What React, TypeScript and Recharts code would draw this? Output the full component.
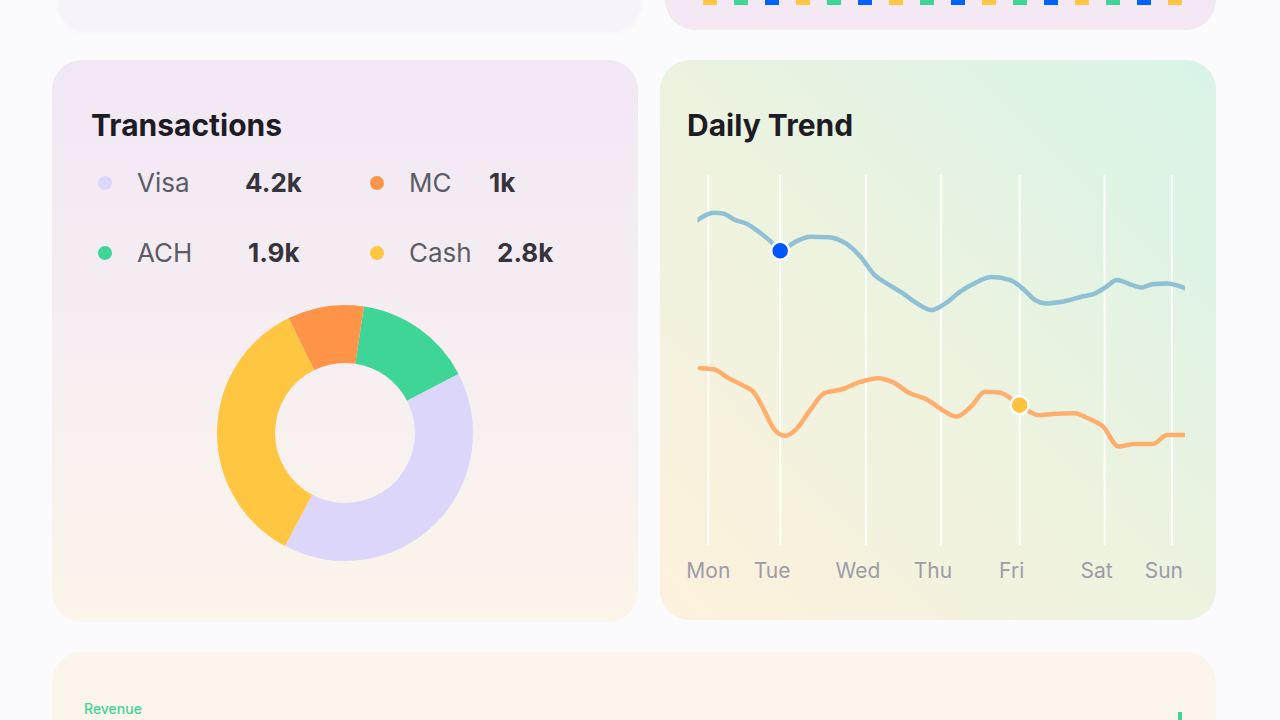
import React from "react";
import {
  PieChart,
  Pie,
  Cell,
  LineChart,
  Line,
  XAxis,
  YAxis,
  ReferenceLine,
  BarChart,
  Bar,
} from "recharts";

// legend
const METHODS = ["Visa", "MC", "ACH", "Cash"];
const METHOD_TOTALS = ["4.2k", "1k", "1.9k", "2.8k"];
const METHOD_COLORS: Record<string, string> = {
  Visa: "#dcd6fb",
  MC: "#fd9447",
  ACH: "#3fd596",
  Cash: "#ffc642",
};

// donut ring, clockwise from ACH (share of the ring, %)
const SLICE_ORDER = ["ACH", "Visa", "Cash", "MC"];
const SLICE_SHARES = [15, 40.4, 35, 9.6];

// daily trend
const DAYS = ["Mon", "Tue", "Wed", "Thu", "Fri", "Sat", "Sun"];
const DAY_TICKS = [0, 0.93, 2.04, 3.01, 4.03, 5.13, 6];

const CARD_DAY = [
  -0.14, 0.07, 0.19, 0.35, 0.49, 0.65, 0.81, 0.93, 1.13, 1.32, 1.55, 1.78,
  1.97, 2.15, 2.34, 2.52, 2.7, 2.89, 3.07, 3.26, 3.44, 3.67, 3.91, 4.09, 4.23,
  4.37, 4.6, 4.83, 5.01, 5.15, 5.29, 5.48, 5.61, 5.75, 5.94, 6.17,
];
const CARD_VALUE = [
  87.8, 89.8, 89.6, 87.8, 86.9, 84.7, 82.0, 79.5, 82.0, 83.3, 83.2, 81.5,
  77.9, 73.0, 70.3, 68.0, 65.3, 63.5, 65.3, 68.5, 70.7, 72.4, 71.6, 68.9,
  66.2, 65.3, 65.8, 67.1, 68.0, 69.8, 71.6, 70.3, 69.6, 70.5, 70.7, 69.4,
];
const CASH_DAY = [
  -0.11, 0.07, 0.26, 0.44, 0.6, 0.72, 0.86, 1.0, 1.13, 1.32, 1.5, 1.73, 1.97,
  2.2, 2.38, 2.61, 2.84, 3.03, 3.21, 3.4, 3.58, 3.77, 4.03, 4.28, 4.46, 4.74,
  4.92, 5.11, 5.31, 5.52, 5.75, 5.94, 6.17,
];
const CASH_VALUE = [
  47.8, 47.5, 45.1, 43.2, 41.0, 36.5, 31.1, 29.5, 31.1, 36.5, 41.0, 42.1,
  44.1, 45.1, 44.1, 41.0, 39.2, 36.5, 34.7, 37.4, 41.4, 41.2, 37.8, 35.1,
  35.4, 35.6, 34.2, 32.0, 26.6, 27.3, 27.3, 29.7, 29.7,
];
const CARD_MARK = 0.93;
const CASH_MARK = 4.03;

// bars of the card above, only their feet are visible
const STUB_VALUES = [1, 1, 1, 1, 1, 1, 1, 1, 1, 1, 1, 1, 1, 1, 1, 1];
const STUB_COLORS = [
  "#ffc642", "#3fd596", "#0062ff", "#ffc642", "#3fd596", "#0062ff",
  "#ffc642", "#3fd596", "#0062ff", "#ffc642", "#3fd596", "#0062ff",
  "#ffc642", "#3fd596", "#0062ff", "#ffc642",
];

const FONT = "Inter, 'Noto Sans', sans-serif";

const donutData = SLICE_ORDER.map((name, i) => ({ name, value: SLICE_SHARES[i] }));
const cardSeries = CARD_DAY.map((day, i) => ({ day, value: CARD_VALUE[i] }));
const cashSeries = CASH_DAY.map((day, i) => ({ day, value: CASH_VALUE[i] }));
const stubData = STUB_VALUES.map((v, i) => ({ i, v }));

function markDot(markDay: number, fill: string, r: number) {
  return (props: any) => {
    const { cx, cy, payload, index } = props;
    if (payload.day !== markDay) return <g key={`d-${index}`} />;
    return (
      <circle
        key={`d-${index}`}
        cx={cx}
        cy={cy}
        r={r}
        fill={fill}
        stroke="#ffffff"
        strokeWidth={2.5}
      />
    );
  };
}

function DayTick(props: any) {
  const { x, y, index } = props;
  return (
    <text
      x={x}
      y={y}
      dx={index === 0 ? 0 : -8}
      dy={25}
      textAnchor="middle"
      fill="#9d9ca7"
      fontSize={21}
      fontFamily={FONT}
    >
      {DAYS[index]}
    </text>
  );
}

function LegendItem({ name, total, left, top, labelWidth }: any) {
  return (
    <div
      style={{
        position: "absolute",
        left,
        top,
        height: 26,
        display: "flex",
        alignItems: "center",
      }}
    >
      <span
        style={{
          width: 14,
          height: 14,
          borderRadius: 7,
          background: METHOD_COLORS[name],
          marginRight: 25,
        }}
      />
      <span style={{ width: labelWidth, fontSize: 26, color: "#5d5c66", lineHeight: "26px" }}>
        {name}
      </span>
      <span style={{ fontSize: 26, fontWeight: 700, color: "#35343b", lineHeight: "26px" }}>
        {total}
      </span>
    </div>
  );
}

export default function App() {
  const card: React.CSSProperties = {
    position: "absolute",
    borderRadius: 30,
    overflow: "hidden",
  };
  const title: React.CSSProperties = {
    position: "absolute",
    top: 50,
    fontSize: 30,
    lineHeight: "30px",
    fontWeight: 700,
    color: "#1d1c25",
  };

  return (
    <div
      style={{
        position: "fixed",
        left: 0,
        top: 0,
        width: 1280,
        height: 720,
        overflow: "hidden",
        background: "#fbfbfd",
        fontFamily: FONT,
      }}
    >
      {/* cards above, cut off by the top edge */}
      <div style={{ ...card, left: 57, top: -40, width: 585, height: 73, background: "#f6f3fa", filter: "blur(1.5px)" }} />
      <div style={{ ...card, left: 665, top: -40, width: 551, height: 70, background: "#f4e8f4" }} />
      <div style={{ position: "absolute", left: 693.5, top: -95 }}>
        <BarChart width={496} height={100} data={stubData} margin={{ top: 0, right: 0, bottom: 0, left: 0 }} barSize={14}>
          <XAxis dataKey="i" hide />
          <YAxis hide domain={[0, 1]} />
          <Bar dataKey="v" isAnimationActive={false}>
            {stubData.map((d) => (
              <Cell key={`s-${d.i}`} fill={STUB_COLORS[d.i]} />
            ))}
          </Bar>
        </BarChart>
      </div>

      {/* Transactions */}
      <div
        style={{
          ...card,
          left: 52,
          top: 60,
          width: 586,
          height: 562,
          background: "linear-gradient(180deg, #f1e8f5 0%, #f6eef2 50%, #fbf5ea 100%)",
        }}
      >
        <div style={{ ...title, left: 39 }}>Transactions</div>
        <LegendItem name={METHODS[0]} total={METHOD_TOTALS[0]} left={46} top={110} labelWidth={108} />
        <LegendItem name={METHODS[1]} total={METHOD_TOTALS[1]} left={318} top={110} labelWidth={80} />
        <LegendItem name={METHODS[2]} total={METHOD_TOTALS[2]} left={46} top={180} labelWidth={111} />
        <LegendItem name={METHODS[3]} total={METHOD_TOTALS[3]} left={318} top={180} labelWidth={88} />
        <div style={{ position: "absolute", left: 0, top: 223 }}>
          <PieChart width={586} height={300} margin={{ top: 0, right: 0, bottom: 0, left: 0 }}>
            <Pie
              data={donutData}
              dataKey="value"
              cx={293}
              cy={150}
              innerRadius={70}
              outerRadius={128}
              startAngle={81.5}
              endAngle={-278.5}
              stroke="none"
              isAnimationActive={false}
            >
              {donutData.map((d) => (
                <Cell key={d.name} fill={METHOD_COLORS[d.name]} />
              ))}
            </Pie>
          </PieChart>
        </div>
      </div>

      {/* Daily Trend */}
      <div
        style={{
          ...card,
          left: 660,
          top: 60,
          width: 556,
          height: 560,
          background: "linear-gradient(to top right, #fdf1dc 0%, #eef3df 45%, #d8f4e7 100%)",
        }}
      >
        <div style={{ ...title, left: 27 }}>Daily Trend</div>
        <div style={{ position: "absolute", left: 0, top: 0 }}>
          <LineChart width={556} height={560} margin={{ top: 115, right: 31, bottom: 35, left: 37.5 }}>
            <XAxis
              dataKey="day"
              type="number"
              domain={[-0.14, 6.17]}
              ticks={DAY_TICKS}
              interval={0}
              height={40}
              axisLine={false}
              tickLine={false}
              tick={<DayTick />}
              allowDataOverflow
            />
            <YAxis hide domain={[0, 100]} />
            {DAY_TICKS.map((t) => (
              <ReferenceLine key={`g-${t}`} x={t} stroke="#ffffff" strokeWidth={2} strokeOpacity={0.9} />
            ))}
            <Line
              data={cardSeries}
              dataKey="value"
              type="monotone"
              stroke="#8fc0d3"
              strokeWidth={4.5}
              strokeLinecap="round"
              dot={markDot(CARD_MARK, "#0057ff", 9)}
              activeDot={false}
              isAnimationActive={false}
            />
            <Line
              data={cashSeries}
              dataKey="value"
              type="monotone"
              stroke="#ffae6e"
              strokeWidth={4.5}
              strokeLinecap="round"
              dot={markDot(CASH_MARK, "#ffc23d", 9)}
              activeDot={false}
              isAnimationActive={false}
            />
          </LineChart>
        </div>
      </div>

      {/* Revenue card, cut off by the bottom edge */}
      <div style={{ ...card, left: 52, top: 652, width: 1164, height: 120, background: "#fcf5ec" }}>
        <div style={{ position: "absolute", left: 32, top: 50, fontSize: 14, lineHeight: "14px", color: "#3fd596", fontWeight: 500 }}>
          Revenue
        </div>
        <div style={{ position: "absolute", left: 1126, top: 60, width: 4, height: 20, background: "#3fd596" }} />
      </div>
    </div>
  );
}
